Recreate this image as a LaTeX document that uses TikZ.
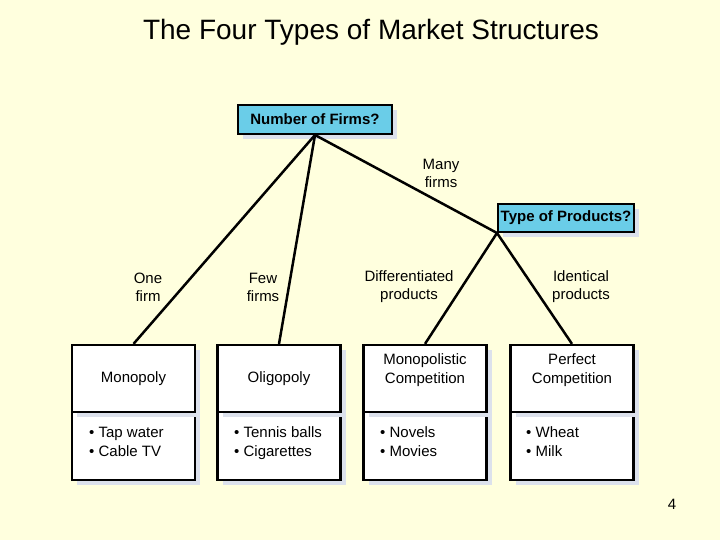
\documentclass[tikz,border=0pt]{standalone}
\usepackage{fontspec}
\setmainfont{Liberation Sans}
\usetikzlibrary{shadows}
\definecolor{bgc}{RGB}{255,255,222}
\definecolor{hdrc}{RGB}{106,205,232}
\definecolor{shdc}{RGB}{220,225,236}
\begin{document}
\begin{tikzpicture}[x=1pt,y=-1pt,
  shd/.style={general shadow={fill=shdc, shadow xshift=5pt, shadow yshift=-5pt}},
  hdrbox/.style={draw, line width=2pt, fill=hdrc, inner sep=0pt, shd,
    font=\fontsize{15}{17}\selectfont\bfseries},
  topbox/.style={draw, line width=2.2pt, fill=white, minimum width=123pt,
    minimum height=67pt, inner sep=0pt, align=center, shd,
    font=\fontsize{15}{19}\selectfont},
  botbox/.style={draw, line width=2.2pt, fill=white, minimum width=123pt,
    minimum height=68pt, inner sep=0pt, shd},
  listtxt/.style={anchor=north west, align=left, inner sep=0pt,
    font=\fontsize{15}{19}\selectfont},
  lbl/.style={align=center, inner sep=0pt, font=\fontsize{15}{18}\selectfont},
  conn/.style={line width=2.5pt, black}]
\fill[bgc] (0,0) rectangle (720,540);
\useasboundingbox (0,0) rectangle (720,540);

\node[inner sep=0pt, font=\fontsize{28}{30}\selectfont] (title) at (371,32) {The Four Types of Market Structures};

\node[hdrbox, minimum width=154pt, minimum height=29pt] (nof) at (315,119.5) {Number of Firms?};
\node[hdrbox, minimum width=136pt, minimum height=28pt] (top) at (566,218) {Type of Products?};

% boxes
\node[botbox] (monob) at (133.5,446) {};
\node[topbox] (mono) at (133.5,378.5) {Monopoly};
\node[botbox] (oligb) at (279,446) {};
\node[topbox] (olig) at (279,378.5) {Oligopoly};
\node[botbox] (moncb) at (425,446) {};
\node[topbox] (monc) at (425,378.5) {Monopolistic\\Competition\\\mbox{}};
\node[botbox] (perfb) at (572,446) {};
\node[topbox] (perf) at (572,378.5) {Perfect\\Competition\\\mbox{}};

\node[listtxt] (monol) at (89,424) {\strut• Tap water\\• Cable TV};
\node[listtxt] (oligl) at (234,424) {\strut• Tennis balls\\• Cigarettes};
\node[listtxt] (moncl) at (380,424) {\strut• Novels\\• Movies};
\node[listtxt] (perfl) at (526,424) {\strut• Wheat\\• Milk};

% connectors
\draw[conn] (nof.south) -- (mono.north);
\draw[conn] (nof.south) -- (olig.north);
\draw[conn] (nof.south) -- (top.south west);
\draw[conn] (top.south west) -- (monc.north);
\draw[conn] (top.south west) -- (perf.north);

% labels
\node[lbl] (many) at (441,173) {Many\\firms};
\node[lbl] (one) at (148,287) {One\\firm};
\node[lbl] (few) at (263,287) {Few\\firms};
\node[lbl] (diff) at (409,287) {Differentiated\\products};
\node[lbl] (iden) at (581,287) {Identical\\products};

\node[inner sep=0pt, font=\fontsize{15}{16}\selectfont] (page) at (672,504) {4};
\end{tikzpicture}
\end{document}
